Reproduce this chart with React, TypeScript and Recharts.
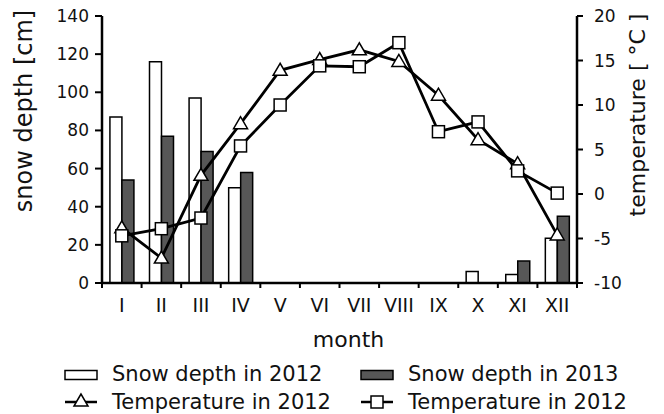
import { Bar, ComposedChart, Label, Line, XAxis, YAxis } from "recharts";

const months = ["I", "II", "III", "IV", "V", "VI", "VII", "VIII", "IX", "X", "XI", "XII"];
const snow2012 = [87, 116, 97, 50, 0, 0, 0, 0, 0, 6, 4.5, 23.5];
const snow2013 = [54, 77, 69, 58, 0, 0, 0, 0, 0, 0, 11.5, 35];
const tempTriangle = [-3.8, -7.2, 2.1, 7.9, 13.9, 15.1, 16.2, 14.9, 11.1, 6.1, 3.4, -4.6];
const tempSquare = [-4.7, -3.9, -2.7, 5.4, 10.0, 14.4, 14.3, 17.0, 7.0, 8.1, 2.6, 0.1];
const snowTicks = [0, 20, 40, 60, 80, 100, 120, 140];
const tempTicks = [-10, -5, 0, 5, 10, 15, 20];

const data = months.map((month, i) => ({
  month,
  snow2012: snow2012[i],
  snow2013: snow2013[i],
  tempTriangle: tempTriangle[i],
  tempSquare: tempSquare[i],
}));

const W = 664;
const H = 414;
const LEFT_W = 102;
const RIGHT_W = 87;
const PLOT_W = W - LEFT_W - RIGHT_W;
const darkBar = "#575757";

function TriangleDot(props: any) {
  const { cx, cy } = props;
  if (cx == null || cy == null) return null;
  return (
    <polygon
      points={`${cx},${cy - 7} ${cx - 7},${cy + 5} ${cx + 7},${cy + 5}`}
      fill="#fff"
      stroke="#000"
      strokeWidth={1.5}
    />
  );
}

function SquareDot(props: any) {
  const { cx, cy } = props;
  if (cx == null || cy == null) return null;
  return <rect x={cx - 6} y={cy - 6} width={12} height={12} fill="#fff" stroke="#000" strokeWidth={1.5} />;
}

function MonthTick(props: any) {
  const { x, y, payload, index, width, visibleTicksCount } = props;
  const bw = width && visibleTicksCount ? width / visibleTicksCount : PLOT_W / months.length;
  return (
    <g>
      <line x1={x - bw / 2} x2={x - bw / 2} y1={y - 5} y2={y} stroke="#000" strokeWidth={2} />
      {index === months.length - 1 && (
        <line x1={x + bw / 2} x2={x + bw / 2} y1={y - 5} y2={y} stroke="#000" strokeWidth={2} />
      )}
      <text x={x} y={y + 24} textAnchor="middle" fontSize={19} fill="#111">
        {payload.value}
      </text>
    </g>
  );
}

function rotatedTitle(text: string, x: number, y: number, size: number) {
  return (
    <text transform={`translate(${x},${y}) rotate(-90)`} textAnchor="middle" fontSize={size} fill="#111">
      {text}
    </text>
  );
}

const legendItems = [
  { name: "Snow depth in 2012", kind: "bar", fill: "#fff", col: 0, row: 0 },
  { name: "Snow depth in 2013", kind: "bar", fill: darkBar, col: 1, row: 0 },
  { name: "Temperature in 2012", kind: "triangle", col: 0, row: 1 },
  { name: "Temperature in 2012", kind: "square", col: 1, row: 1 },
];

function LegendBox() {
  const colX = [65, 361];
  const rowY = [375, 402];
  return (
    <svg width={W} height={H} style={{ position: "absolute", left: 0, top: 0, pointerEvents: "none" }}>
      {legendItems.map((item, i) => {
        const x = colX[item.col];
        const y = rowY[item.row];
        return (
          <g key={i}>
            {item.kind === "bar" && (
              <rect x={x} y={y - 4.5} width={32} height={9} fill={item.fill} stroke="#000" strokeWidth={1.5} />
            )}
            {item.kind !== "bar" && <line x1={x} x2={x + 32} y1={y} y2={y} stroke="#000" strokeWidth={2.5} />}
            {item.kind === "triangle" && <TriangleDot cx={x + 16} cy={y - 1} />}
            {item.kind === "square" && <SquareDot cx={x + 16} cy={y} />}
            <text x={x + 47} y={y + 6 + (item.row === 1 ? 1 : 0)} fontSize={21} fill="#111">
              {item.name}
            </text>
          </g>
        );
      })}
    </svg>
  );
}

export default function App() {
  return (
    <div style={{ position: "absolute", left: 0, top: 0, width: W, height: H, background: "#fff", fontFamily: "'DejaVu Sans', sans-serif" }}>
      <ComposedChart
        width={W}
        height={H}
        data={data}
        margin={{ top: 16, right: 0, bottom: 0, left: 0 }}
        barCategoryGap="20%"
        barGap={0}
      >
        <XAxis
          dataKey="month"
          height={H - 283}
          interval={0}
          tickLine={false}
          tickSize={5}
          tickMargin={0}
          axisLine={{ stroke: "#000", strokeWidth: 2.5 }}
          tick={<MonthTick />}
        >
          <Label
            content={(p: any) => {
              const vb = p.viewBox || { x: LEFT_W, width: PLOT_W, y: 283 };
              return (
                <text x={vb.x + vb.width / 2 + 9} y={vb.y + 64} textAnchor="middle" fontSize={22} fill="#111">
                  month
                </text>
              );
            }}
          />
        </XAxis>
        <YAxis
          yAxisId="left"
          width={LEFT_W}
          domain={[0, 140]}
          ticks={snowTicks}
          interval={0}
          tickSize={7}
          tickMargin={6}
          tickLine={{ stroke: "#000", strokeWidth: 2 }}
          axisLine={{ stroke: "#000", strokeWidth: 2.5 }}
          tick={{ fontSize: 17, fill: "#111" }}
        >
          <Label content={() => rotatedTitle("snow depth [cm]", 32, 111, 24)} />
        </YAxis>
        <YAxis
          yAxisId="right"
          orientation="right"
          width={RIGHT_W}
          domain={[-10, 20]}
          ticks={tempTicks}
          interval={0}
          tickSize={6}
          tickMargin={11}
          tickLine={{ stroke: "#000", strokeWidth: 2 }}
          axisLine={{ stroke: "#000", strokeWidth: 2.5 }}
          tick={{ fontSize: 17, fill: "#111", textAnchor: "start" }}
        >
          <Label content={() => rotatedTitle("temperature [ °C ]", 645, 115, 22)} />
        </YAxis>
        <Bar yAxisId="left" dataKey="snow2012" fill="#fff" stroke="#000" strokeWidth={1.5} isAnimationActive={false} />
        <Bar yAxisId="left" dataKey="snow2013" fill={darkBar} stroke="#000" strokeWidth={1.5} isAnimationActive={false} />
        <Line
          yAxisId="right"
          type="linear"
          dataKey="tempTriangle"
          stroke="#000"
          strokeWidth={2.8}
          dot={(p: any) => <TriangleDot key={`t${p.index}`} {...p} />}
          activeDot={false}
          isAnimationActive={false}
        />
        <Line
          yAxisId="right"
          type="linear"
          dataKey="tempSquare"
          stroke="#000"
          strokeWidth={2.8}
          dot={(p: any) => <SquareDot key={`s${p.index}`} {...p} />}
          activeDot={false}
          isAnimationActive={false}
        />
      </ComposedChart>
      <LegendBox />
    </div>
  );
}
